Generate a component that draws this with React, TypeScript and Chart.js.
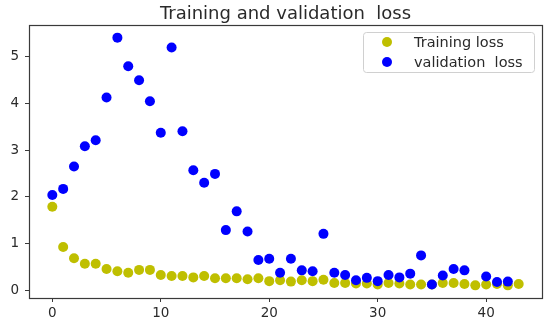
import React, { useEffect, useRef } from "react";
import { Chart, registerables } from "chart.js";

Chart.register(...registerables);

const TITLE = "Training and validation  loss";
const epochs = [0, 1, 2, 3, 4, 5, 6, 7, 8, 9, 10, 11, 12, 13, 14, 15, 16, 17, 18, 19, 20, 21, 22, 23, 24, 25, 26, 27, 28, 29, 30, 31, 32, 33, 34, 35, 36, 37, 38, 39, 40, 41, 42, 43];
const trainLoss = [1.79, 0.93, 0.69, 0.57, 0.57, 0.46, 0.41, 0.38, 0.44, 0.44, 0.33, 0.31, 0.31, 0.28, 0.31, 0.26, 0.26, 0.26, 0.24, 0.26, 0.2, 0.22, 0.19, 0.22, 0.2, 0.23, 0.16, 0.16, 0.15, 0.15, 0.13, 0.16, 0.15, 0.13, 0.13, 0.13, 0.16, 0.16, 0.14, 0.11, 0.13, 0.14, 0.11, 0.14];
const valLoss: (number | null)[] = [2.04, 2.17, 2.65, 3.08, 3.21, 4.12, 5.4, 4.79, 4.49, 4.04, 3.37, 5.19, 3.4, 2.57, 2.3, 2.49, 1.29, 1.69, 1.26, 0.65, 0.68, 0.38, 0.68, 0.43, 0.41, 1.21, 0.38, 0.33, 0.22, 0.27, 0.2, 0.33, 0.28, 0.36, 0.75, 0.13, 0.32, 0.46, 0.43, null, 0.3, 0.18, 0.19, null];
const seriesLabels = ["Training loss", "validation  loss"];
const xTicks = [0, 10, 20, 30, 40];
const yTicks = [0, 1, 2, 3, 4, 5];

const FONT = "'DejaVu Sans', sans-serif";
const INK = "#2a2a2a";

const framePlugin = {
  id: "frameTitleLegend",
  afterDraw(chart: any) {
    const { ctx, chartArea } = chart;
    const { left, right, top, bottom } = chartArea;
    ctx.save();
    // frame
    ctx.strokeStyle = "#3a3a3a";
    ctx.lineWidth = 1.2;
    ctx.strokeRect(Math.round(left) + 0.5, Math.round(top) + 0.5, Math.round(right - left), Math.round(bottom - top));
    // title
    ctx.fillStyle = INK;
    ctx.font = `18px ${FONT}`;
    ctx.textAlign = "center";
    ctx.textBaseline = "alphabetic";
    ctx.fillText(TITLE, (left + right) / 2, 19);
    // legend
    const bx = 363, by = 32, bw = 171, bh = 40;
    ctx.beginPath();
    if ((ctx as any).roundRect) (ctx as any).roundRect(bx + 0.5, by + 0.5, bw, bh, 3);
    else ctx.rect(bx + 0.5, by + 0.5, bw, bh);
    ctx.fillStyle = "rgba(255,255,255,0.85)";
    ctx.fill();
    ctx.strokeStyle = "#d0d0d0";
    ctx.lineWidth = 1;
    ctx.stroke();
    chart.data.datasets.forEach((ds: any, i: number) => {
      const cy = 42 + i * 20;
      ctx.beginPath();
      ctx.arc(387, cy, 5, 0, Math.PI * 2);
      ctx.fillStyle = ds.backgroundColor;
      ctx.fill();
      ctx.fillStyle = INK;
      ctx.font = `14.5px ${FONT}`;
      ctx.textAlign = "left";
      ctx.textBaseline = "middle";
      ctx.fillText(ds.label, 414, cy + 1);
    });
    ctx.restore();
  },
};

export default function App() {
  const ref = useRef<HTMLCanvasElement | null>(null);
  useEffect(() => {
    if (!ref.current) return;
    const chart = new Chart(ref.current, {
      type: "scatter",
      data: {
        datasets: [
          {
            label: seriesLabels[0],
            data: epochs.map((e, i) => ({ x: e, y: trainLoss[i] })),
            backgroundColor: "#bfbf00",
            borderColor: "#bfbf00",
            pointRadius: 5,
            pointHoverRadius: 5,
            borderWidth: 0,
            order: 1,
          },
          {
            label: seriesLabels[1],
            data: epochs.map((e, i) => ({ x: e, y: valLoss[i] as any })),
            backgroundColor: "#0000ff",
            borderColor: "#0000ff",
            pointRadius: 5,
            pointHoverRadius: 5,
            borderWidth: 0,
            order: 0,
          },
        ],
      },
      options: {
        animation: false,
        responsive: false,
        devicePixelRatio: 1,
        layout: { padding: { top: 25, right: 8, left: 0, bottom: 0 } },
        plugins: {
          legend: { display: false },
          title: { display: false },
          tooltip: { enabled: false },
        },
        scales: {
          x: {
            type: "linear",
            min: -2.15,
            max: 45.15,
            afterBuildTicks: (s: any) => {
              s.ticks = xTicks.map((v) => ({ value: v }));
            },
            afterFit: (s: any) => {
              s.height = 27;
            },
            grid: { display: true, drawOnChartArea: false, drawTicks: true, tickLength: 4, tickColor: "#3a3a3a" },
            border: { display: false },
            ticks: { color: INK, font: { family: FONT, size: 13.5 }, padding: 3, maxRotation: 0, autoSkip: false },
          },
          y: {
            type: "linear",
            min: -0.16,
            max: 5.67,
            afterBuildTicks: (s: any) => {
              s.ticks = yTicks.map((v) => ({ value: v }));
            },
            afterFit: (s: any) => {
              s.width = 29;
            },
            grid: { display: true, drawOnChartArea: false, drawTicks: true, tickLength: 4, tickColor: "#3a3a3a" },
            border: { display: false },
            ticks: { color: INK, font: { family: FONT, size: 13.5 }, padding: 6, autoSkip: false },
          },
        },
      },
      plugins: [framePlugin],
    });
    return () => chart.destroy();
  }, []);
  return (
    <div style={{ position: "absolute", left: 0, top: 0, width: 550, height: 325, background: "#fff" }}>
      <canvas ref={ref} width={550} height={325} style={{ width: 550, height: 325 }} />
    </div>
  );
}
